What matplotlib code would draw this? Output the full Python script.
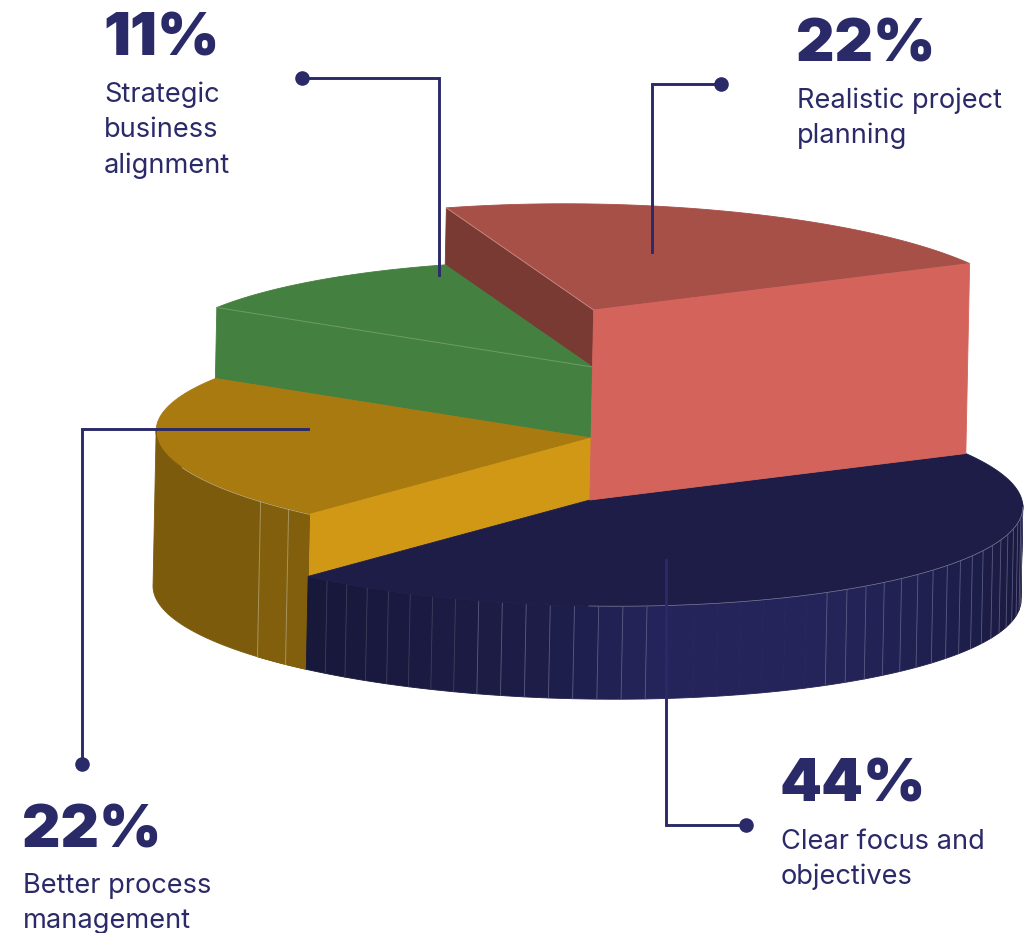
import numpy as np
import matplotlib
matplotlib.use("Agg")
import matplotlib.pyplot as plt
from matplotlib.colors import to_rgb
from matplotlib.patches import Polygon

# ---- data ----
percent_labels = ["44%", "22%", "11%", "22%"]
slice_names = [["Clear focus and", "objectives"],
               ["Better process", "management"],
               ["Strategic", "business", "alignment"],
               ["Realistic project", "planning"]]
values = [44, 22, 11, 22]
slice_heights = [93, 155, 226, 283]   # extrusion of each slice, in pixels

# ---- style ----
W, H = 1030, 933
CX, BASE_Y = 587, 593
RX, RY = 434, 106
LEAN = 0.02
TILT = 0.016
START = 29.7
INK = "#2A2A69"
TOP = ["#1D1D48", "#A87A10", "#44803F", "#A65048"]
BODY_FONT = ["Inter", "DejaVu Sans"]

fig = plt.figure(figsize=(W / 100, H / 100), dpi=100)
ax = fig.add_axes([0, 0, 1, 1])
ax.set_xlim(0, W)
ax.set_ylim(H, 0)
ax.axis("off")


def pt(angle, h, r=1.0):
    a = np.radians(angle)
    dx = r * RX * np.cos(a)
    return np.column_stack([CX + LEAN * h + dx,
                            BASE_Y - h - r * RY * np.sin(a) + TILT * dx])


def apex(h):
    return np.array([[CX + LEAN * h + 1, BASE_Y - h]])


def poly(xy, color, z, edge=None, lw=0.6):
    ax.add_patch(Polygon(xy, closed=True, facecolor=color,
                         edgecolor=edge or color, linewidth=lw, zorder=z))


def top(a0, a1, h, color, z):
    arc = np.linspace(a0, a1, 120)
    poly(np.vstack([apex(h), pt(arc, h)]), color, z)


def cut(angle, h_low, h_high, color, z):
    a = np.array([angle])
    poly(np.vstack([apex(h_low), pt(a, h_low), pt(a, h_high), apex(h_high)]), color, z)


def blend(t, c0, c1):
    c0, c1 = np.array(to_rgb(c0)), np.array(to_rgb(c1))
    return tuple(c0 + (c1 - c0) * t)


# slice angles, clockwise from START, as shares of the labelled total
fractions = np.array(values, float) / sum(values)
edges = START - np.concatenate([[0], np.cumsum(fractions) * 360])
navy0, navy1 = edges[0], edges[1]
gold0, gold1 = edges[1], edges[2]
green0, green1 = edges[2], edges[3]
red0, red1 = edges[3], edges[4]
h_navy, h_gold, h_green, h_red = slice_heights

# back to front
cut(red0, h_green, h_red, "#793A33", 1)
top(green0, green1, h_green, TOP[2], 2)
cut(gold1, h_gold, h_green, "#44803F", 3)
ax.plot(*np.vstack([apex(h_green), pt(np.array([gold1]), h_green)]).T,
        color="#6F9A68", lw=0.7, zorder=3.5)
top(gold0, gold1, h_gold, TOP[1], 4)
cut(gold0, h_navy, h_gold, "#D09815", 5)

# gold outer wall with its facets
wall = np.linspace(-181, gold0, 80)
poly(np.vstack([pt(wall, h_gold), pt(wall[::-1], 0)]), "#7C5B0C", 6)
seg = np.linspace(-139.4, gold0, 12)
poly(np.vstack([pt(seg, h_gold), pt(seg[::-1], 0)]), "#815F0C", 6.1)
for a in (-139.4, -134.0):
    ax.plot(*np.vstack([pt(np.array([a]), h_gold), pt(np.array([a]), 0)]).T,
            color="#A8945E", lw=0.7, zorder=6.2)
ax.plot(*pt(np.linspace(-160, gold0, 60), h_gold).T, color="#C8B483", lw=0.5, zorder=6.3)

# navy wall with facets
top_z = 7
step = 3.2
bounds = np.arange(gold0, 2.01, step)
bounds = np.append(bounds, 2)
for b0, b1 in zip(bounds[:-1], bounds[1:]):
    mid = (b0 + b1) / 2 + 90            # degrees from the front of the pie
    t = np.interp(mid, [-42, -5, 8, 33, 55, 90], [0, 0.45, 1, 1, 0.6, 0.05])
    seg = np.linspace(b0, b1, 5)
    poly(np.vstack([pt(seg, h_navy), pt(seg[::-1], 0)]), blend(t, "#17173A", "#24245A"), top_z)
    off = b1 + 90
    if not (8 < off < 31) and b1 < -0.5:
        shade = "#4A4660" if off < -15 else "#6A6A90"
        ax.plot(*np.vstack([pt(np.array([b1]), h_navy), pt(np.array([b1]), 0)]).T,
                color=shade, lw=0.6, alpha=0.8, zorder=top_z + 0.5)
top(navy0, navy1, h_navy, TOP[0], 8)
ax.plot(*pt(np.linspace(-90, 0, 80), h_navy).T, color="#7F7F9C", lw=0.5, zorder=8.5)

# raised slice
top(red0, red1, h_red, TOP[3], 9)
cut(red1, h_navy, h_red, "#D4635C", 10)
ax.plot(*np.vstack([apex(h_red), pt(np.array([red0]), h_red)]).T,
        color="#C58C85", lw=0.6, zorder=10.5)

# ---- leader lines ----
leaders = [((746, 666, 666), (825, 825, 560)),
           ((82, 82, 308), (764, 429, 429)),
           ((302, 439, 439), (78, 78, 275)),
           ((721, 652, 652), (84, 84, 252))]
for xs, ys in leaders:
    ax.plot(xs, ys, color=INK, lw=2.1, solid_joinstyle="miter", zorder=20)
    ax.plot(xs[0], ys[0], "o", color=INK, ms=10.5, mew=0, zorder=21)

# ---- labels ----
anchors = [(782, 802, 849), (24, 847, 893), (105, 55, 102), (798, 62, 108)]
for pct, lines, (x, yb, y0) in zip(percent_labels, slice_names, anchors):
    ax.text(x - 2, yb, pct, family=BODY_FONT, weight=900, fontsize=43, color=INK,
            va="baseline", ha="left", zorder=22)
    for i, s in enumerate(lines):
        ax.text(x - 1, y0 + 35.3 * i, s, family=BODY_FONT, fontsize=19.6, color=INK,
                va="baseline", ha="left", zorder=22)

fig.savefig("out.png", dpi=100)
